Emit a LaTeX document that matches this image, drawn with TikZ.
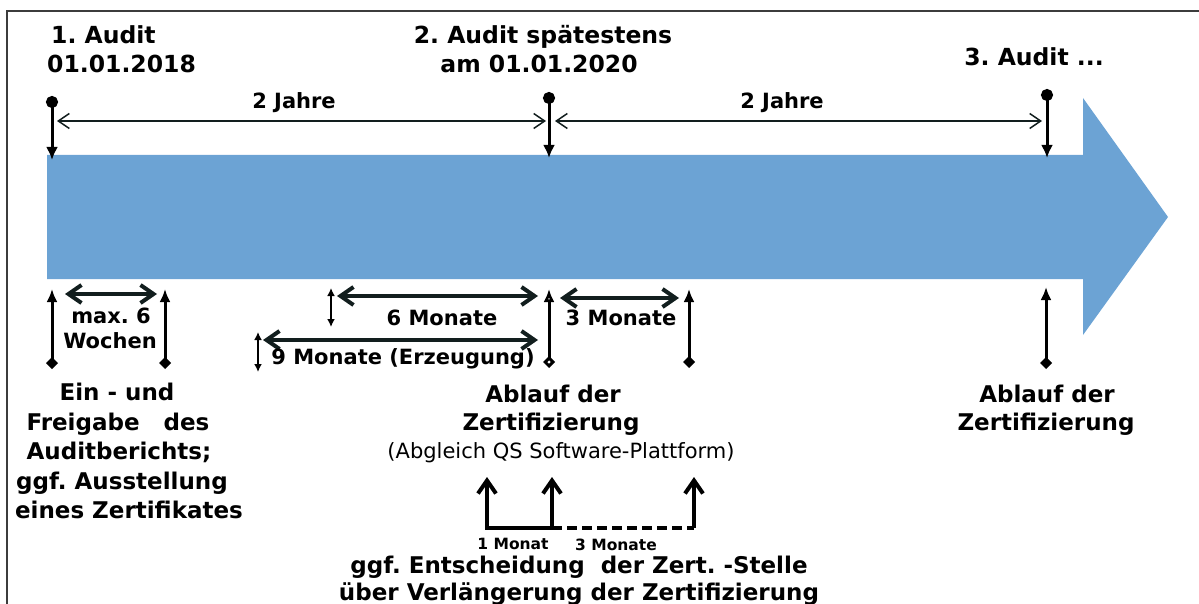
\documentclass[tikz,border=0pt]{standalone}
\usepackage{fontspec}
\setmainfont{DejaVu Sans}
\frenchspacing
\usetikzlibrary{arrows.meta}
\definecolor{flow}{RGB}{108,163,212}
\definecolor{dimc}{RGB}{18,30,30}
\definecolor{framec}{RGB}{60,60,60}
\tikzset{
  lbl/.style={font=\bfseries\fontsize{23}{28}\selectfont, inner sep=0pt, anchor=base},
  lblt/.style={font=\bfseries\fontsize{23.5}{28}\selectfont, inner sep=0pt, anchor=base},
  lblm/.style={font=\bfseries\fontsize{21}{26}\selectfont, inner sep=0pt, anchor=base},
  lbls/.style={font=\bfseries\fontsize{15.5}{19}\selectfont, inner sep=0pt, anchor=base},
  lblr/.style={font=\fontsize{21}{26}\selectfont, inner sep=0pt, anchor=base},
  auditmark/.style={line width=3pt, draw=black, {Circle[length=12pt]}-{Latex[length=13pt,width=12pt]}},
  yearspan/.style={line width=1.5pt, draw=dimc, {Straight Barb[length=11pt,width=15pt]}-{Straight Barb[length=11pt,width=15pt]}},
  vdim/.style={line width=3pt, draw=black, {Latex[length=13pt,width=11pt]}-{Diamond[length=12pt,width=12pt]}},
  vdimopen/.style={line width=3pt, draw=black, {Latex[open,length=13pt,width=11pt]}-{Diamond[open,length=12pt,width=12pt]}},
  vsmall/.style={line width=2pt, draw=black, {Latex[length=8pt,width=8pt]}-{Latex[length=8pt,width=8pt]}},
  hdim/.style={line width=4pt, draw=dimc, {Straight Barb[length=13pt,width=18pt]}-{Straight Barb[length=13pt,width=18pt]}},
  brk/.style={line width=4pt, draw=black},
  brktip/.style={-{Straight Barb[length=13pt,width=18pt]}},
}
\begin{document}
\begin{tikzpicture}[x=1pt,y=-1pt]
\useasboundingbox (0,0) rectangle (1199,604);
% frame
\draw[line width=1.5pt, draw=framec] (7,610) -- (7,11) -- (1205,11);
% big arrow
\fill[flow] (47,155) -- (1083,155) -- (1083,98) -- (1168,217) -- (1083,335) -- (1083,279) -- (47,279) -- cycle;

% titles
\node[lblt, anchor=base west] (a1a) at (51,44) {1. Audit};
\node[lblt, anchor=base west] (a1b) at (47,73) {01.01.2018};
\node[lblt] (a2a) at (543,44) {2. Audit spätestens};
\node[lblt] (a2b) at (539,73) {am 01.01.2020};
\node[lblt] (a3) at (1034,66) {3. Audit ...};
\node[lblm] (j1) at (294,109) {2 Jahre};
\node[lblm] (j2) at (782,109) {2 Jahre};

% audit markers
\coordinate (d1) at (52,96);  \coordinate (b1) at (52,160);
\coordinate (d2) at (549,92); \coordinate (b2) at (549,158);
\coordinate (d3) at (1047,89); \coordinate (b3) at (1047,158);
\draw[auditmark] (d1) -- (b1);
\draw[auditmark] (d2) -- (b2);
\draw[auditmark] (d3) -- (b3);

% two-year spans
\coordinate (s1l) at (57,121); \coordinate (s1r) at (546,121);
\coordinate (s2l) at (555,121); \coordinate (s2r) at (1042,121);
\draw[yearspan] (s1l) -- (s1r);
\draw[yearspan] (s2l) -- (s2r);

% lower left: max 6 Wochen
\coordinate (v1t) at (52,289); \coordinate (v1b) at (52,369);
\coordinate (v2t) at (165,289); \coordinate (v2b) at (165,369);
\draw[vdim] (v1t) -- (v1b);
\draw[vdim] (v2t) -- (v2b);
\coordinate (h1l) at (65,294); \coordinate (h1r) at (157,294);
\draw[hdim] (h1l) -- (h1r);
\node[lblm] (w1) at (111,323) {max. 6};
\node[lblm] (w2) at (110,348) {Wochen};

\node[lbl] (e1) at (117,400) {Ein - und};
\node[lbl] (e2) at (118,430) {Freigabe\ \ \ des};
\node[lbl] (e3) at (119,459) {Auditberichts;};
\node[lbl] (e4) at (122,489) {ggf. Ausstellung};
\node[lbl] (e5) at (129,518) {eines Zertifikates};

% 6 and 9 months
\coordinate (v6t) at (331,288); \coordinate (v6b) at (331,327);
\draw[vsmall] (v6t) -- (v6b);
\coordinate (h6l) at (337,296); \coordinate (h6r) at (538,296);
\draw[hdim] (h6l) -- (h6r);
\node[lblm] (m6) at (442,325) {6 Monate};
\coordinate (v9t) at (258,332); \coordinate (v9b) at (258,372);
\draw[vsmall] (v9t) -- (v9b);
\coordinate (h9l) at (263,340); \coordinate (h9r) at (538,340);
\draw[hdim] (h9l) -- (h9r);
\node[lblm] (m9) at (403,364) {9 Monate (Erzeugung)};

% expiry marker and 3 months
\coordinate (vmt) at (549,289); \coordinate (vmb) at (549,368);
\draw[vdimopen] (vmt) -- (vmb);
\coordinate (h3l) at (560,298); \coordinate (h3r) at (679,298);
\draw[hdim] (h3l) -- (h3r);
\node[lblm] (m3) at (621,325) {3 Monate};
\coordinate (v3t) at (689,289); \coordinate (v3b) at (689,368);
\draw[vdim] (v3t) -- (v3b);

\node[lbl] (ab1) at (553,402) {Ablauf der};
\node[lbl] (ab2) at (551,430) {Zertifizierung};
\node[lblr] (ab3) at (561,458) {(Abgleich QS Software-Plattform)};

% right expiry
\coordinate (vrt) at (1046,287); \coordinate (vrb) at (1046,369);
\draw[vdim] (vrt) -- (vrb);
\node[lbl] (ac1) at (1047,402) {Ablauf der};
\node[lbl] (ac2) at (1046,430) {Zertifizierung};

% bottom bracket
\coordinate (u1) at (487,477); \coordinate (m1) at (487,528);
\coordinate (u2) at (552,477); \coordinate (m2) at (552,528);
\coordinate (u3) at (694,477); \coordinate (m3c) at (694,528);
\draw[brk, {Straight Barb[length=13pt,width=18pt]}-{Straight Barb[length=13pt,width=18pt]}] (u1) -- (m1) -- (m2) -- (u2);
\draw[brk, dash pattern=on 10pt off 5pt] (m2) -- (m3c);
\draw[brk, brktip] (m3c) -- (u3);
\node[lbls] (mo1) at (513,549) {1 Monat};
\node[lbls] (mo3) at (616,550) {3 Monate};
\node[lbl] (g1) at (579,573) {ggf. Entscheidung\ \ der Zert. -Stelle};
\node[lbl] (g2) at (579,600) {über Verlängerung der Zertifizierung};
\end{tikzpicture}
\end{document}
